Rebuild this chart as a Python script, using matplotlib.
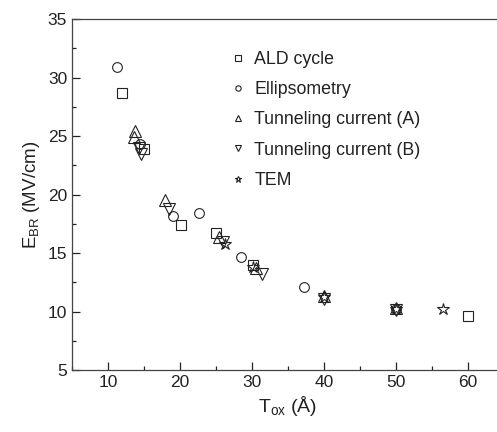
import matplotlib
matplotlib.use("Agg")
import matplotlib.pyplot as plt
from matplotlib.ticker import MultipleLocator

plt.rcParams['font.family'] = ['Liberation Sans', 'DejaVu Sans']

# data
ald_x = [12.0, 15.0, 20.1, 25.0, 30.1, 60.0]
ald_y = [28.7, 23.9, 17.4, 16.7, 14.0, 9.6]

ell_x = [11.2, 14.5, 19.0, 22.6, 28.5, 37.2, 50.0]
ell_y = [30.9, 24.3, 18.2, 18.4, 14.7, 12.1, 10.2]

tunA_x = [13.8, 13.6, 17.9, 25.4, 30.6, 40.0, 50.0]
tunA_y = [25.4, 24.9, 19.5, 16.4, 13.7, 11.3, 10.3]

tunB_x = [14.3, 14.6, 18.4, 26.0, 31.4, 40.0, 50.0]
tunB_y = [24.0, 23.5, 18.8, 15.9, 13.2, 11.1, 10.1]

tem_x = [26.2, 30.2, 40.0, 50.0, 56.6]
tem_y = [15.8, 13.8, 11.2, 10.2, 10.2]

fig = plt.figure(figsize=(4.97, 4.32), dpi=100)
ax = fig.add_axes([0.145, 0.1435, 0.869, 0.8125])

kw = dict(linestyle='none', markerfacecolor='none',
          markeredgecolor='#222222', markeredgewidth=0.8)
ax.plot(ald_x, ald_y, marker='s', markersize=7, label='ALD cycle', **kw)
ax.plot(ell_x, ell_y, marker='o', markersize=7, label='Ellipsometry', **kw)
ax.plot(tunA_x, tunA_y, marker='^', markersize=8, label='Tunneling current (A)', **kw)
ax.plot(tunB_x, tunB_y, marker='v', markersize=8, label='Tunneling current (B)', **kw)
ax.plot(tem_x, tem_y, marker='*', markersize=9, label='TEM', **kw)

ax.set_xlim(5, 65)
ax.set_ylim(5, 35)
ax.xaxis.set_major_locator(MultipleLocator(10))
ax.xaxis.set_minor_locator(MultipleLocator(5))
ax.yaxis.set_major_locator(MultipleLocator(5))
ax.yaxis.set_minor_locator(MultipleLocator(2.5))
ax.tick_params(which='both', direction='in', top=False, right=False,
               labelsize=12.5, colors='#222222')
ax.tick_params(which='major', length=6, width=0.9)
ax.tick_params(which='minor', length=3, width=0.9)
for s in ax.spines.values():
    s.set_linewidth(0.9)
    s.set_color('#444444')

ax.set_xlabel('T$_\\mathregular{ox}$ (Å)', fontsize=14, color='#222222', labelpad=3)
ax.set_ylabel('E$_\\mathregular{BR}$ (MV/cm)', fontsize=13.5, color='#222222', labelpad=4)

leg = ax.legend(loc='upper left', bbox_to_anchor=(224 / 497, 1 - 44 / 432),
                bbox_transform=fig.transFigure, frameon=False, fontsize=12.8,
                markerscale=0.55, handlelength=0.8, handletextpad=0.5,
                labelspacing=0.74, borderaxespad=0)
for t in leg.get_texts():
    t.set_color('#222222')

fig.savefig('out.png', dpi=100)
